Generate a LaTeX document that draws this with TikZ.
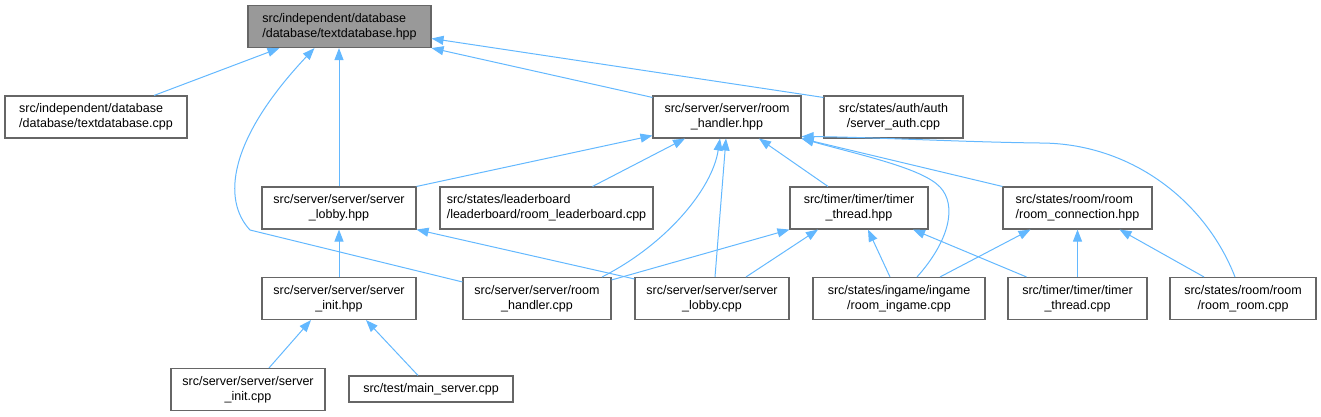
\documentclass[tikz,border=0pt]{standalone}
\usepackage{fontspec}
\setmainfont{Liberation Sans}
\usetikzlibrary{arrows.meta}
\definecolor{deplink}{HTML}{63B8FF}
\newcommand{\flab}[2]{\begin{tabular}{@{}c@{}}\multicolumn{1}{@{}l@{}}{#1}\\#2\end{tabular}}

\begin{document}
\begin{tikzpicture}[x=1pt,y=-1pt,
  file/.style={draw=black!60, line width=1.1pt, inner sep=0pt, minimum height=42pt, font=\fontsize{12.5}{15}\selectfont},
  dep/.style={draw=deplink, line width=1pt, -{Triangle[length=12pt,width=9pt]}}]
\useasboundingbox (0,0) rectangle (1321,416);
\node[file, fill=black!40, minimum width=183pt] (hpp) at (339.5,26.5) {\flab{src/independent/database}{/database/textdatabase.hpp}};
\node[file, minimum width=182pt] (dbcpp) at (96,117) {\flab{src/independent/database}{/database/textdatabase.cpp}};
\node[file, minimum width=148pt] (rhhpp) at (727,117) {\flab{src/server/server/room}{\_handler.hpp}};
\node[file, minimum width=139pt] (authcpp) at (893.5,117) {\flab{src/states/auth/auth}{/server\_auth.cpp}};
\node[file, minimum width=154pt] (lobbyhpp) at (339,208) {\flab{src/server/server/server}{\_lobby.hpp}};
\node[file, minimum width=213pt] (leadercpp) at (546.5,208) {\flab{src/states/leaderboard}{/leaderboard/room\_leaderboard.cpp}};
\node[file, minimum width=138pt] (timerhpp) at (859,208) {\flab{src/timer/timer/timer}{\_thread.hpp}};
\node[file, minimum width=149pt] (connhpp) at (1077.5,208) {\flab{src/states/room/room}{/room\_connection.hpp}};
\node[file, minimum width=154pt] (inithpp) at (339,298.5) {\flab{src/server/server/server}{\_init.hpp}};
\node[file, minimum width=148pt] (rhcpp) at (537,298.5) {\flab{src/server/server/room}{\_handler.cpp}};
\node[file, minimum width=154pt] (lobbycpp) at (712,298.5) {\flab{src/server/server/server}{\_lobby.cpp}};
\node[file, minimum width=172pt] (ingamecpp) at (899,298.5) {\flab{src/states/ingame/ingame}{/room\_ingame.cpp}};
\node[file, minimum width=139pt] (timercpp) at (1077.5,298.5) {\flab{src/timer/timer/timer}{\_thread.cpp}};
\node[file, minimum width=146pt] (roomcpp) at (1243,298.5) {\flab{src/states/room/room}{/room\_room.cpp}};
\node[file, minimum width=154pt] (initcpp) at (248,389.5) {\flab{src/server/server/server}{\_init.cpp}};
\node[file, minimum width=164pt, minimum height=26pt] (maincpp) at (431,389) {src/test/main\_server.cpp};
\draw[dep] ([xshift=58pt]dbcpp.north) -- ([xshift=-60pt]hpp.south);
\draw[dep] ([yshift=-5pt]rhcpp.north west) -- (250,230) .. controls (222,200) and (228,140) .. ([xshift=-25pt]hpp.south);
\draw[dep] (lobbyhpp.north) -- (lobbyhpp.north |- hpp.south);
\draw[dep] ([yshift=-2pt]rhhpp.north west) -- (hpp.south east);
\draw[dep] ([yshift=-2pt]authcpp.north west) -- ([yshift=-12pt]hpp.east);
\draw[dep] ([xshift=46pt]leadercpp.north) -- ([xshift=-42pt]rhhpp.south);
\draw[dep] (lobbyhpp.north east) -- ([yshift=3pt]rhhpp.south west);
\draw[dep] ([xshift=65pt]rhcpp.north) .. controls (665,245) and (712,190) .. ([xshift=-7pt]rhhpp.south);
\draw[dep] ([xshift=3pt]lobbycpp.north) -- ([xshift=-1pt]rhhpp.south);
\draw[dep] ([xshift=-31pt]timerhpp.north) -- ([xshift=32pt]rhhpp.south);
\draw[dep] ([xshift=18pt]ingamecpp.north) .. controls (950,240) and (957,205) .. (940,187) .. controls (922,168) and (860,155) .. (rhhpp.south east);
\draw[dep] (connhpp.north west) -- (rhhpp.south east);
\draw[dep] ([xshift=-8pt]roomcpp.north) .. controls (1205,200) and (1130,143) .. (1040,143) .. controls (960,142) and (870,137) .. ([yshift=2pt]rhhpp.south east);
\draw[dep] ([yshift=-3pt]rhcpp.north east) -- (timerhpp.south west);
\draw[dep] ([xshift=34pt]lobbycpp.north) -- ([xshift=-41pt]timerhpp.south);
\draw[dep] ([xshift=-9pt]ingamecpp.north) -- ([xshift=9pt]timerhpp.south);
\draw[dep] ([xshift=-51pt]timercpp.north) -- ([xshift=54pt]timerhpp.south);
\draw[dep] ([yshift=-2pt]lobbycpp.north west) -- (lobbyhpp.south east);
\draw[dep] ([xshift=41pt]ingamecpp.north) -- ([xshift=-47pt]connhpp.south);
\draw[dep] (timercpp.north) -- (connhpp.south);
\draw[dep] ([xshift=-39pt]roomcpp.north) -- ([xshift=42pt]connhpp.south);
\draw[dep] (inithpp.north) -- (lobbyhpp.south);
\draw[dep] ([xshift=21pt]initcpp.north) -- ([xshift=-28pt]inithpp.south);
\draw[dep] ([xshift=-13pt]maincpp.north) -- ([xshift=27pt]inithpp.south);
\end{tikzpicture}
\end{document}
